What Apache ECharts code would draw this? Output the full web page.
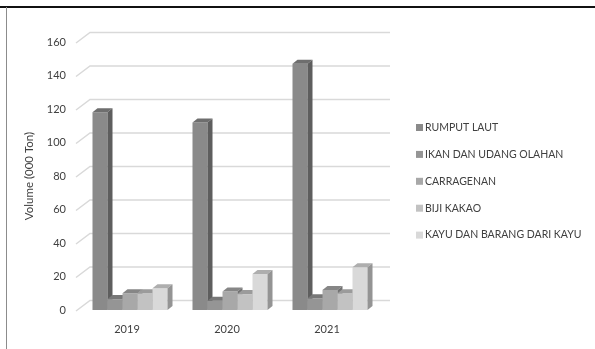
<!DOCTYPE html>
<html>
<head>
<meta charset="utf-8">
<script src="https://cdn.jsdelivr.net/npm/echarts@6/dist/echarts.min.js"></script>
<style>
	html, body { margin: 0; padding: 0; background: #fff; }
	#echart { width: 595px; height: 349px; }
</style>
</head>
<body>
<div id="echart"></div>
<script>
// tahun dan data volume (000 ton)
var years = ['2019', '2020', '2021'];
var seriesNames = ['RUMPUT LAUT', 'IKAN DAN UDANG OLAHAN', 'CARRAGENAN', 'BIJI KAKAO', 'KAYU DAN BARANG DARI KAYU'];
var rumputLaut = [118, 112, 147];
var ikanUdang = [6.5, 5.5, 7];
var carragenan = [10, 11, 12];
var bijiKakao = [10, 9.5, 10];
var kayu = [13, 21.5, 25.5];
var yTicks = [0, 20, 40, 60, 80, 100, 120, 140, 160];

var values = [rumputLaut, ikanUdang, carragenan, bijiKakao, kayu];
var colors = ['#8a8a8a', '#959595', '#a8a8a8', '#c2c2c2', '#d9d9d9'];

// kedalaman 3D
var DX = 5, DY = 4;
var WALL_DX = 14, WALL_DY = 10.5;

function shade(hex, f) {
	var n = parseInt(hex.slice(1), 16);
	var r = Math.round(((n >> 16) & 255) * f);
	var g = Math.round(((n >> 8) & 255) * f);
	var b = Math.round((n & 255) * f);
	return 'rgb(' + r + ',' + g + ',' + b + ')';
}

function bar3d(idx) {
	return function (params, api) {
		var top = api.coord([api.value(0), api.value(1)]);
		var base = api.coord([api.value(0), 0]);
		var band = api.size([1, 0])[0];
		var bw = band * 0.15;
		var x0 = top[0] - bw * 2.5 + idx * bw;
		var x1 = x0 + bw;
		var yT = top[1], yB = base[1];
		var c = colors[idx];
		return {
			type: 'group',
			children: [
				{ type: 'rect', shape: { x: x0, y: yT, width: bw, height: yB - yT }, style: { fill: c } },
				{ type: 'polygon', shape: { points: [[x0, yT], [x0 + DX, yT - DY], [x1 + DX, yT - DY], [x1, yT]] }, style: { fill: shade(c, 0.8) } },
				{ type: 'polygon', shape: { points: [[x1, yT], [x1 + DX, yT - DY], [x1 + DX, yB - DY], [x1, yB]] }, style: { fill: shade(c, 0.68) } }
			]
		};
	};
}

function wallLines(params, api) {
	var cs = params.coordSys;
	var y = api.coord([0, api.value(0)])[1];
	return {
		type: 'polyline',
		shape: { points: [
			[cs.x - 4, y + 1],
			[cs.x - 4 + WALL_DX, y + 1 - WALL_DY],
			[cs.x + cs.width + 10, y + 1 - WALL_DY]
		] },
		style: { stroke: '#d9d9d9', lineWidth: 1.5, fill: null }
	};
}

var series = [{
	type: 'custom',
	silent: true,
	z: 1,
	renderItem: wallLines,
	encode: { y: 0 },
	data: yTicks.map(function (t) { return [t]; })
}];

for (var i = 0; i < seriesNames.length; i++) {
	series.push({
		name: seriesNames[i],
		type: 'custom',
		z: 2,
		itemStyle: { color: colors[i] },
		renderItem: bar3d(i),
		data: values[i].map(function (v, k) { return [k, v]; })
	});
}

var myEchart = echarts.init(document.getElementById('echart'));

var option = {
	animation: false,
	textStyle: { fontFamily: 'Lato, Liberation Sans, sans-serif' },
	graphic: [
		{ type: 'line', shape: { x1: 0, y1: 7, x2: 595, y2: 7 }, style: { stroke: '#111', lineWidth: 2 } },
		{ type: 'line', shape: { x1: 6.5, y1: 7, x2: 6.5, y2: 349 }, style: { stroke: '#8c8c8c', lineWidth: 1 } }
	],
	grid: {
		left: 80,
		width: 300,
		top: 42,
		height: 268
	},
	legend: {
		orient: 'vertical',
		left: 416,
		top: 122,
		padding: 0,
		itemWidth: 7,
		itemHeight: 7,
		itemGap: 15.9,
		icon: 'rect',
		textStyle: {
			fontFamily: 'Lato, Liberation Sans, sans-serif',
			fontSize: 10.5,
			color: '#404040',
			padding: [0, 0, 0, -3]
		},
		data: seriesNames
	},
	xAxis: {
		type: 'category',
		data: years,
		axisLine: { show: false },
		axisTick: { show: false },
		axisLabel: {
			color: '#404040',
			fontSize: 11,
			margin: 14,
			padding: [0, 6, 0, 0]
		}
	},
	yAxis: {
		type: 'value',
		min: 0,
		max: 160,
		interval: 20,
		name: 'Volume (000 Ton)',
		nameLocation: 'middle',
		nameRotate: 90,
		nameGap: 45,
		nameTextStyle: { color: '#404040', fontSize: 11.5 },
		axisLine: { show: false },
		axisTick: { show: false },
		splitLine: { show: false },
		axisLabel: { color: '#404040', fontSize: 11, margin: 14 }
	},
	series: series
};

myEchart.setOption(option);
</script>
</body>
</html>
